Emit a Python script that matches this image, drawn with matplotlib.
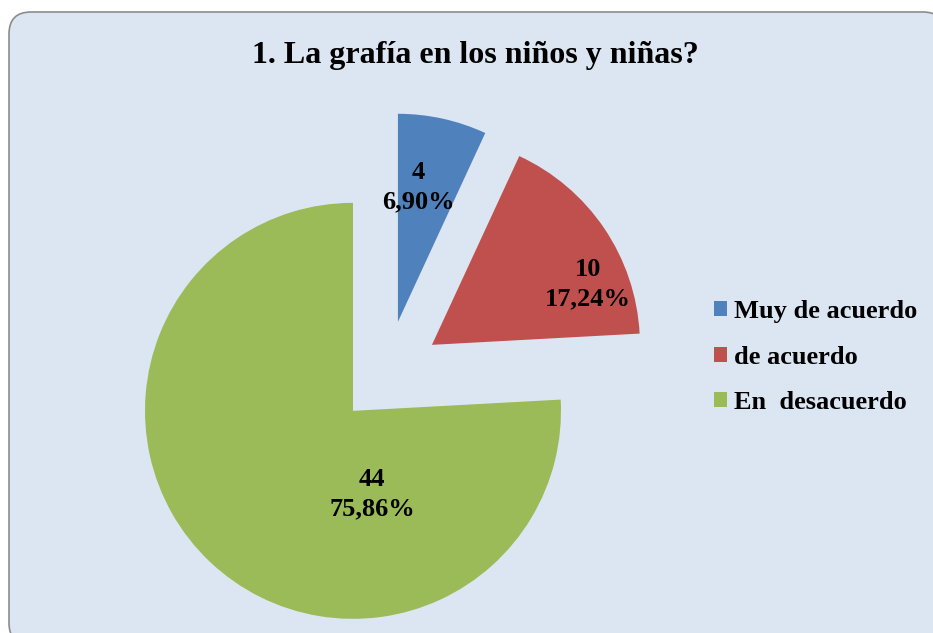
import matplotlib
matplotlib.use("Agg")
import matplotlib.pyplot as plt
from matplotlib.patches import FancyBboxPatch

categories = ["Muy de acuerdo", "de acuerdo", "En  desacuerdo"]
values = [4, 10, 44]
colors = ["#4f81bd", "#c0504d", "#9bbb59"]
title = "1. La grafía en los niños y niñas?"

W, H = 933, 633
fig = plt.figure(figsize=(W / 100, H / 100), dpi=100)
fig.patch.set_facecolor("white")

ax = fig.add_axes([0, 0, 1, 1])

# rounded background box (pixel coords)
box = FancyBboxPatch((9, H - 645), 945 - 9, 645 - 12,
                     boxstyle="round,pad=0,rounding_size=22",
                     facecolor="#dce6f2", edgecolor="#8c8c8c",
                     linewidth=1.2, zorder=0)
ax.add_patch(box)

total = sum(values)
R = 208
center = (386, H - 376)
explode = [55.5, 55.5, 48]  # offsets in pixel units

wedges, texts = ax.pie(values, colors=colors, startangle=90, counterclock=False,
                       radius=R, center=center, explode=explode,
                       wedgeprops=dict(linewidth=0, zorder=2), frame=True)
ax.set_xlim(0, W)
ax.set_ylim(0, H)
ax.set_aspect("equal")
ax.axis("off")

label_pos = [(418, 187), (588, 284), (372, 494)]
font = ["Liberation Serif", "DejaVu Serif"]
for v, (px, py) in zip(values, label_pos):
    pct = f"{100 * v / total:.2f}".replace(".", ",")
    ax.text(px, H - py, f"{v}\n{pct}%", ha="center", va="center",
            fontsize=19, fontweight="bold", family=font, linespacing=1.35,
            zorder=3)

ax.text(475, H - 56, title, ha="center", va="center",
        fontsize=23, fontweight="bold", family=font, zorder=3)

leg = ax.legend(wedges, categories, loc="center left",
                bbox_to_anchor=(701 / W, 1 - 357 / H), bbox_transform=fig.transFigure,
                frameon=False, handlelength=0.5, handleheight=0.5,
                handletextpad=0.25, labelspacing=0.85, borderpad=0,
                prop=dict(family=font, weight="bold", size=19))

fig.savefig("out.png", dpi=100, facecolor="white")
